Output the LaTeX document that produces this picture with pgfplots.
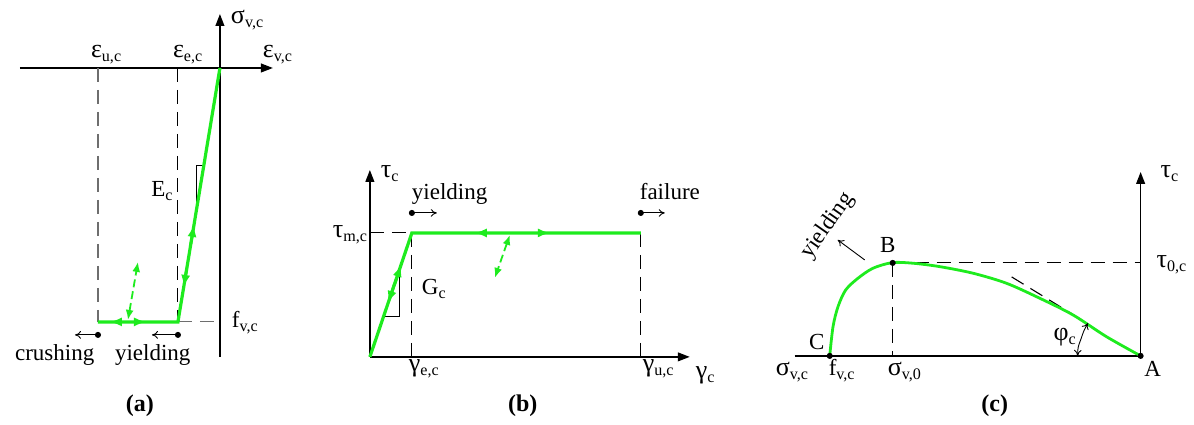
\documentclass[border=0pt]{standalone}
\usepackage{pgfplots}
\pgfplotsset{compat=1.18}
\usetikzlibrary{arrows.meta}
\usepackage{fontspec}
\setmainfont{Liberation Serif}
\definecolor{lgreen}{RGB}{30,235,30}
\definecolor{dgrey}{RGB}{110,110,110}
\newcommand{\sub}[2]{#1\textsubscript{#2}}
\newcommand{\gk}[1]{{\fontsize{13}{13}\selectfont #1}}

\begin{document}
\begin{tikzpicture}[font=\fontsize{11.5}{13}\selectfont]
\begin{axis}[
    width=597pt, height=212.5pt, scale only axis,
    xmin=0, xmax=1194, ymin=0, ymax=425, y dir=reverse,
    axis lines=none, clip=false,
    axisline/.style={black, line width=0.8pt},
    ax/.style={axisline, -{Triangle[length=6pt,width=4.4pt]}},
    gline/.style={lgreen, line width=1.6pt},
    garr/.style={lgreen, line width=1.4pt, -{Latex[length=6pt,width=4.6pt]}},
    dsh/.style={line width=0.55pt, dash pattern=on 7pt off 4pt},
    small/.style={black, line width=0.45pt, -{To[length=3pt,width=3.8pt]}},
    dots/.style={only marks, mark=*, mark size=1.3pt, black},
    darr/.style={lgreen, line width=0.9pt, dash pattern=on 4pt off 2pt,
      {Latex[length=5pt,width=4pt]}-{Latex[length=5pt,width=4pt]}},
  ]
\path (axis cs:0,0) rectangle (axis cs:1194,425);

% ---------- (a) ----------
\addplot[ax] coordinates {(20,68) (273,68)};
\addplot[ax] coordinates {(220,357) (220,14)};
\addplot[dgrey, dsh] coordinates {(98,68) (98,322)};
\addplot[black, dsh] coordinates {(178,68) (178,322)};
\addplot[dgrey, dsh] coordinates {(178,322) (220,322)};
\addplot[black, line width=0.4pt] coordinates {(196,213) (196,165) (204,165)};
\addplot[gline] coordinates {(98,322) (178,322) (220,68)};
\addplot[garr] coordinates {(190.9,244) (194,225)};
\addplot[garr] coordinates {(186.9,268) (183.8,287)};
\addplot[garr] coordinates {(130,322) (110,322)};
\addplot[garr] coordinates {(126,322) (146,322)};
\addplot[darr] coordinates {(128,320) (138,262)};
\addplot[small] coordinates {(98,335) (75,335)};
\addplot[small] coordinates {(178,335) (152,335)};
\addplot[dots] coordinates {(98,335) (178,335)};

\node[anchor=base west] at (axis cs:224,24) {\sub{\gk{σ}}{v,c}};
\node[anchor=base west] at (axis cs:256,58) {\sub{\gk{ε}}{v,c}};
\node[anchor=base west] at (axis cs:166,58) {\sub{\gk{ε}}{e,c}};
\node[anchor=base west] at (axis cs:84,58) {\sub{\gk{ε}}{u,c}};
\node[anchor=base west] at (axis cs:225,328) {\sub{f}{v,c}};
\node[anchor=base east, inner sep=1pt] at (axis cs:176,197) {\sub{E}{c}};
\node[anchor=base west] at (axis cs:8,361) {crushing};
\node[anchor=base west] at (axis cs:108,361) {yielding};
\node[anchor=base, font=\fontsize{12}{14}\selectfont\bfseries] at (axis cs:140,412) {(a)};

% ---------- (b) ----------
\addplot[ax] coordinates {(370,357) (370,170)};
\addplot[ax] coordinates {(370,357) (690,357)};
\addplot[black, dsh] coordinates {(370,233) (412,233)};
\addplot[black, dsh] coordinates {(412,233) (412,357)};
\addplot[black, dsh] coordinates {(641,233) (641,357)};
\addplot[black, line width=0.4pt] coordinates {(385,316) (400,316) (400,270)};
\addplot[gline] coordinates {(370,357) (412,233) (641,233)};
\addplot[garr] coordinates {(394.9,284) (401.2,265)};
\addplot[garr] coordinates {(394.6,284) (388.3,303)};
\addplot[garr] coordinates {(497,233) (475,233)};
\addplot[garr] coordinates {(528,233) (550,233)};
\addplot[darr] coordinates {(510,235) (495,278)};
\addplot[small] coordinates {(412,213) (437,213)};
\addplot[small] coordinates {(641,213) (665,213)};
\addplot[dots] coordinates {(412,213) (641,213)};

\node[anchor=base west] at (axis cs:374,178) {\sub{\gk{τ}}{c}};
\node[anchor=base west] at (axis cs:326,238) {\sub{\gk{τ}}{m,c}};
\node[anchor=base west] at (axis cs:415,295) {\sub{G}{c}};
\node[anchor=base west] at (axis cs:405,200) {yielding};
\node[anchor=base west] at (axis cs:633,200) {failure};
\node[anchor=base west] at (axis cs:402,372) {\sub{\gk{γ}}{e,c}};
\node[anchor=base west] at (axis cs:636,372) {\sub{\gk{γ}}{u,c}};
\node[anchor=base west] at (axis cs:689,379) {\sub{\gk{γ}}{c}};
\node[anchor=base, font=\fontsize{12}{14}\selectfont\bfseries] at (axis cs:523,412) {(b)};

% ---------- (c) ----------
\addplot[axisline] coordinates {(795,356) (1141,356)};
\addplot[ax] coordinates {(1141,356) (1141,172)};
\addplot[black, dsh] coordinates {(893,263) (1141,263)};
\addplot[black, dsh] coordinates {(893,263) (893,356)};
\addplot[black, dsh] coordinates {(1012,277) (1087,323)};
\addplot[lgreen, line width=1.4pt, smooth] coordinates {
  (830,356) (833.3,326.7) (838.3,306.7) (846,290) (858.3,278.3) (873.3,268.3)
  (892.7,262.7) (913.3,263.3) (940,266.7) (973.3,273.3) (1006.7,283.3)
  (1040,298.3) (1073.3,315) (1106.7,336.7) (1141,356)};
\addplot[black, line width=0.45pt, smooth,
  {To[length=3pt,width=3.8pt]}-{To[length=3pt,width=3.8pt]}] coordinates {
  (1078,356) (1078.6,347.3) (1081.4,338.9) (1084.3,330.8) (1088.3,323.3)};
\addplot[small] coordinates {(865,260) (838,240)};
\addplot[dots] coordinates {(830,356) (893,263) (1141,356)};

\node[anchor=base west] at (axis cs:1154,178) {\sub{\gk{τ}}{c}};
\node[anchor=base west] at (axis cs:1150,268) {\sub{\gk{τ}}{0,c}};
\node[anchor=base] at (axis cs:888,253) {B};
\node[anchor=base] at (axis cs:817,350) {C};
\node[anchor=base] at (axis cs:1153,377) {A};
\node[anchor=base west] at (axis cs:769,376) {\sub{\gk{σ}}{v,c}};
\node[anchor=base west] at (axis cs:822,376) {\sub{f}{v,c}};
\node[anchor=base west] at (axis cs:881,376) {\sub{\gk{σ}}{v,0}};
\node[anchor=base west] at (axis cs:1047,341) {\sub{\gk{φ}}{c}};
\node[rotate=55] at (axis cs:828,226) {yielding};
\node[anchor=base, font=\fontsize{12}{14}\selectfont\bfseries] at (axis cs:995,412) {(c)};
\end{axis}
\end{tikzpicture}
\end{document}
